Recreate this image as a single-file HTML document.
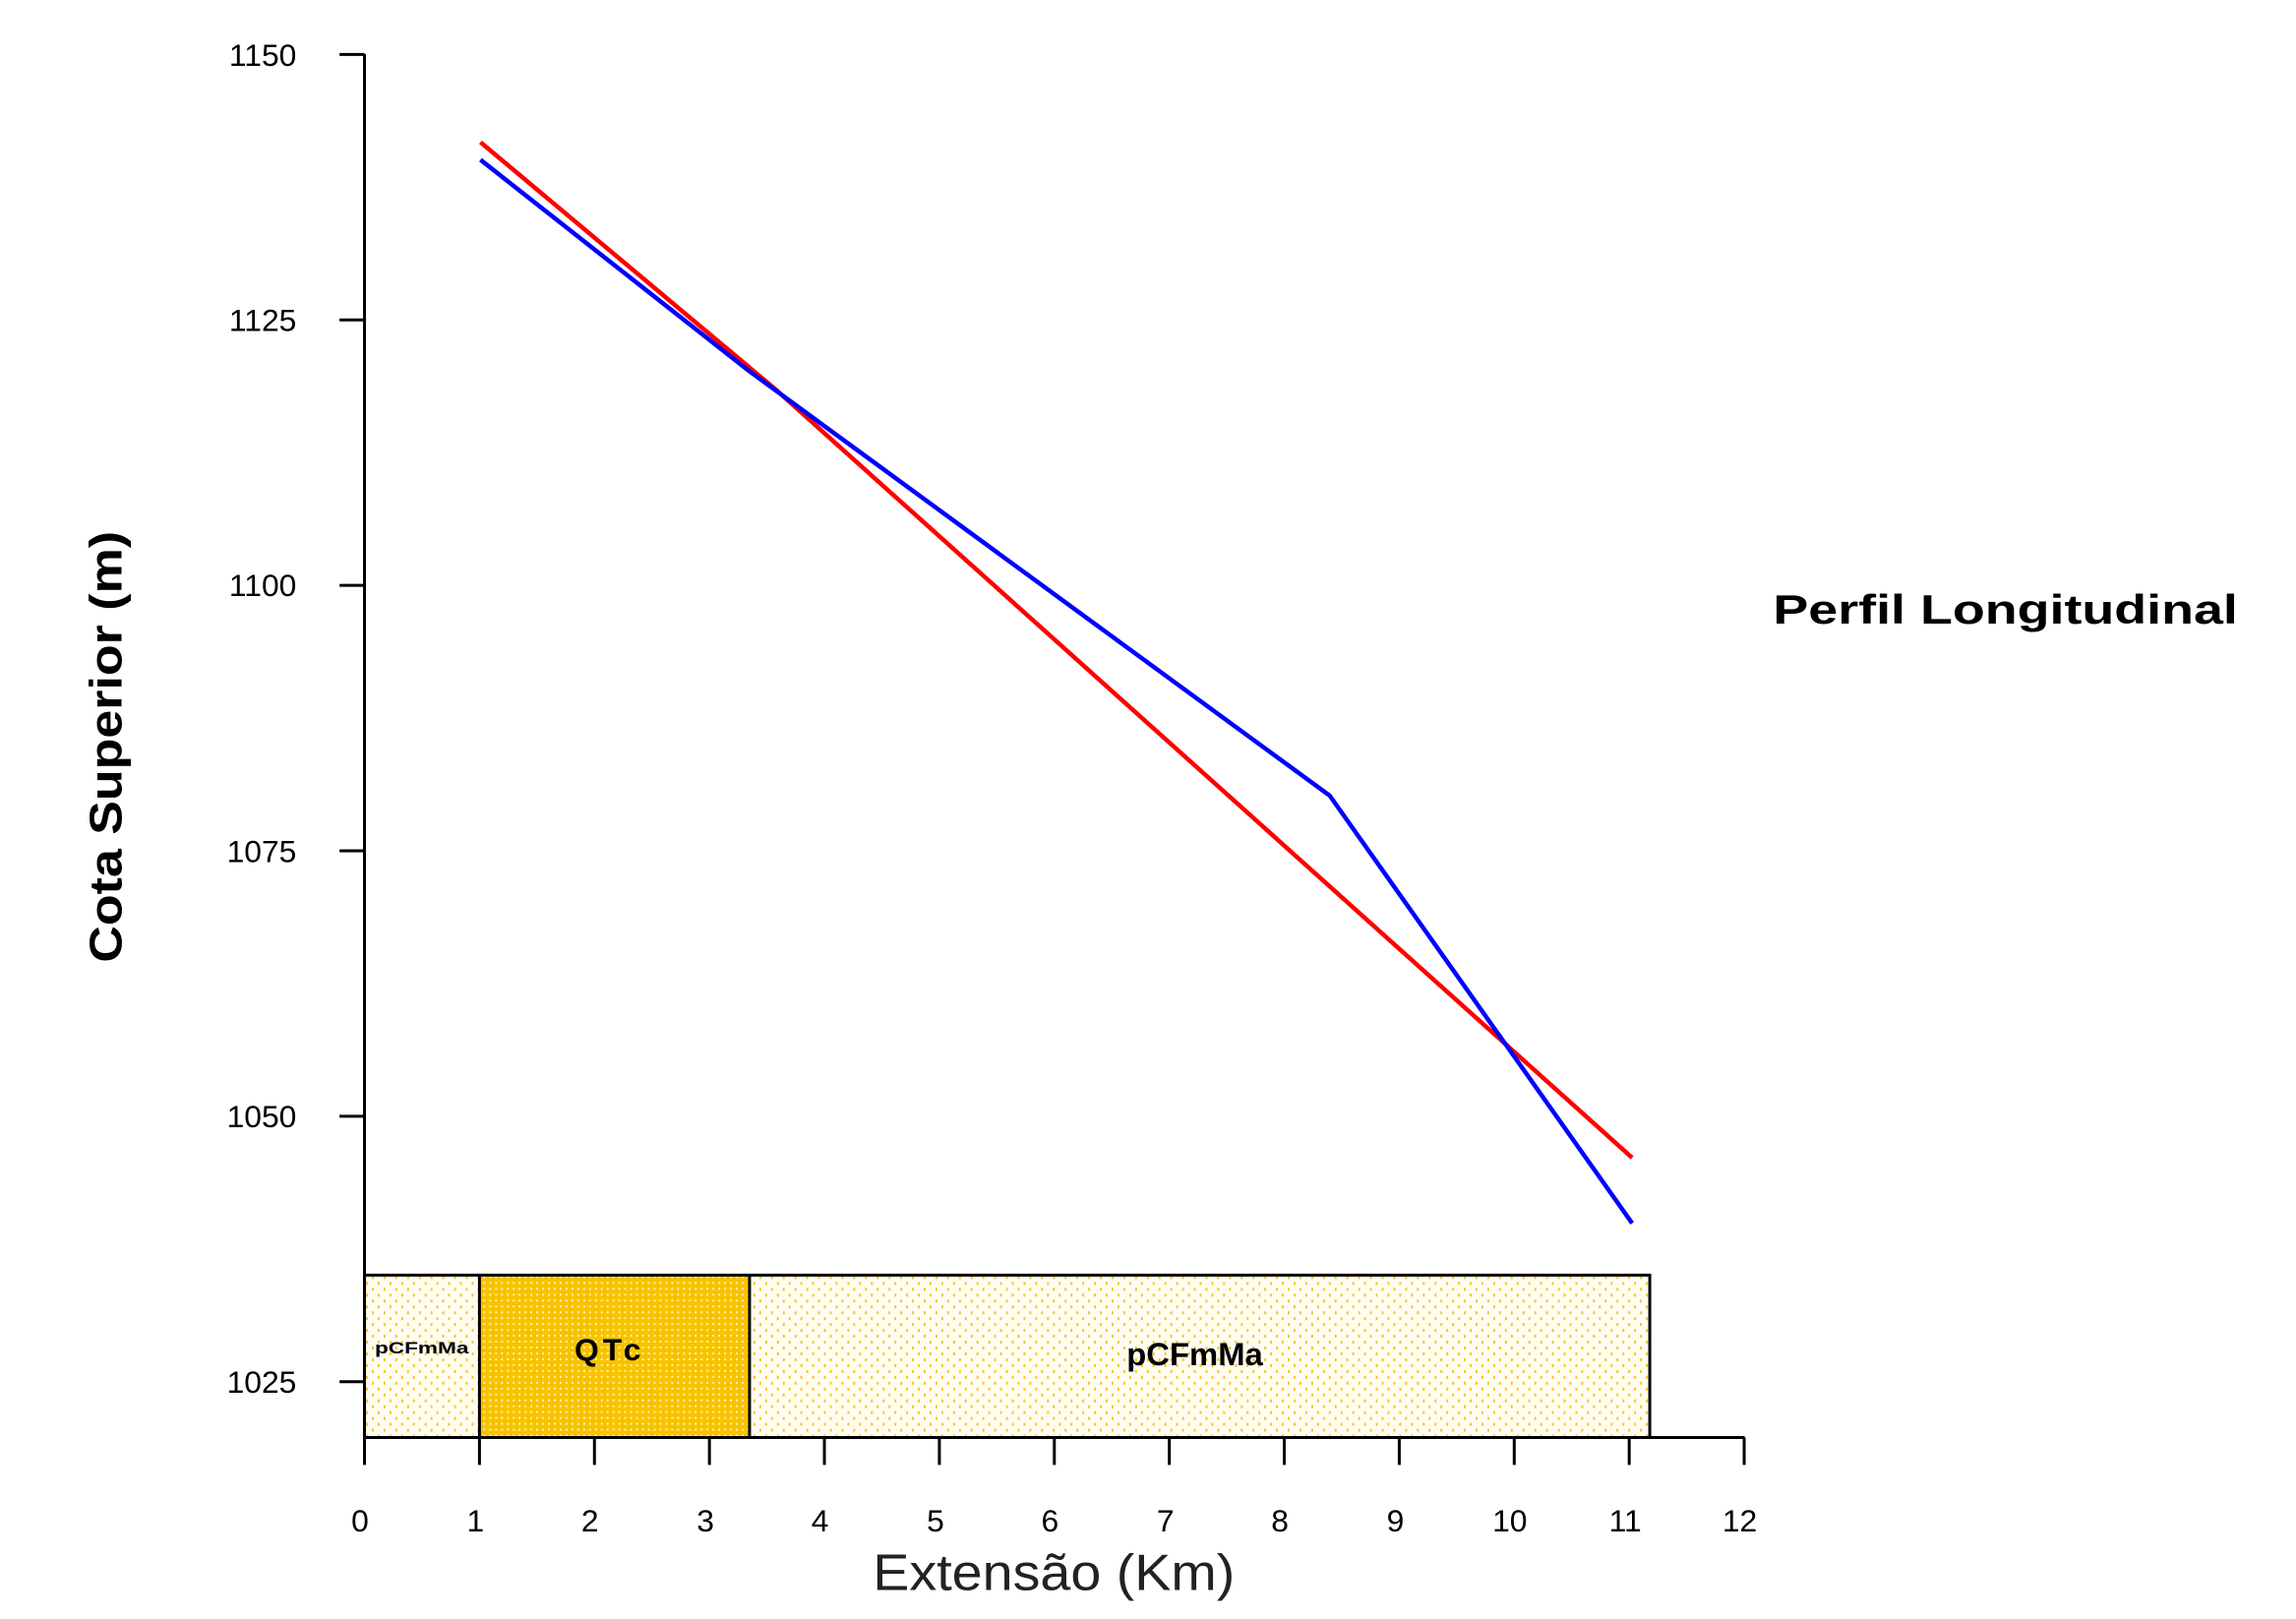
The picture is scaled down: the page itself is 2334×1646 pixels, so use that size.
<!DOCTYPE html>
<html><head><meta charset="utf-8"><style>html,body{margin:0;padding:0;background:#fff}</style></head>
<body>
<svg width="2334" height="1641" viewBox="0 0 2334 1641" xmlns="http://www.w3.org/2000/svg" font-family="Liberation Sans, Arial, sans-serif">
<defs>
<pattern id="lt" width="12" height="12" patternUnits="userSpaceOnUse">
<rect width="12" height="12" fill="#fffcf0"/><rect x="2" y="2" width="2" height="3" fill="#f3c62a"/><rect x="8" y="8" width="2" height="3" fill="#f3c62a"/>
</pattern>
<pattern id="dk" width="6" height="6" patternUnits="userSpaceOnUse">
<rect width="6" height="6" fill="#f7c300"/><rect x="2" y="2" width="2" height="2" fill="#fff2a8"/>
</pattern>
</defs>
<g transform="translate(0,0.3) scale(0.9947)">
<rect x="372.5" y="1303" width="117.5" height="166" fill="url(#lt)"/>
<rect x="490" y="1303" width="276" height="166" fill="url(#dk)"/>
<rect x="766" y="1303" width="920" height="166" fill="url(#lt)"/>
<g stroke="#000" stroke-width="3" fill="none">
<rect x="372.5" y="1303" width="1313.5" height="166"/>
<line x1="490" y1="1303" x2="490" y2="1469"/>
<line x1="766" y1="1303" x2="766" y2="1469"/>
</g>
<text x="431" y="1383" font-size="17" font-weight="bold" text-anchor="middle" textLength="96" lengthAdjust="spacingAndGlyphs">pCFmMa</text>
<text x="623" y="1390" font-size="32" font-weight="bold" text-anchor="middle" letter-spacing="4">QTc</text>
<text x="1221" y="1395" font-size="33" font-weight="bold" text-anchor="middle">pCFmMa</text>
<g stroke="#000" stroke-width="3">
<line x1="372.5" y1="55" x2="372.5" y2="1469"/>
<line x1="371" y1="1469" x2="1783" y2="1469"/>
<line x1="347" y1="55.4" x2="372.5" y2="55.4"/>
<line x1="347" y1="326.7" x2="372.5" y2="326.7"/>
<line x1="347" y1="598" x2="372.5" y2="598"/>
<line x1="347" y1="869.3" x2="372.5" y2="869.3"/>
<line x1="347" y1="1140.6" x2="372.5" y2="1140.6"/>
<line x1="347" y1="1411.9" x2="372.5" y2="1411.9"/>
<line x1="372.5" y1="1469" x2="372.5" y2="1497"/><line x1="490" y1="1469" x2="490" y2="1497"/><line x1="607.5" y1="1469" x2="607.5" y2="1497"/><line x1="725" y1="1469" x2="725" y2="1497"/><line x1="842.5" y1="1469" x2="842.5" y2="1497"/><line x1="960" y1="1469" x2="960" y2="1497"/><line x1="1077.5" y1="1469" x2="1077.5" y2="1497"/><line x1="1195" y1="1469" x2="1195" y2="1497"/><line x1="1312.5" y1="1469" x2="1312.5" y2="1497"/><line x1="1430" y1="1469" x2="1430" y2="1497"/><line x1="1547.5" y1="1469" x2="1547.5" y2="1497"/><line x1="1665" y1="1469" x2="1665" y2="1497"/><line x1="1782.5" y1="1469" x2="1782.5" y2="1497"/>
</g>
<g font-size="32" text-anchor="end">
<text x="303" y="67">1150</text><text x="303" y="338">1125</text><text x="303" y="609">1100</text><text x="303" y="881">1075</text><text x="303" y="1152">1050</text><text x="303" y="1423">1025</text>
</g>
<g font-size="32" text-anchor="middle">
<text x="368" y="1565">0</text><text x="486" y="1565">1</text><text x="603" y="1565">2</text><text x="721" y="1565">3</text><text x="838" y="1565">4</text><text x="956" y="1565">5</text><text x="1073" y="1565">6</text><text x="1191" y="1565">7</text><text x="1308" y="1565">8</text><text x="1426" y="1565">9</text><text x="1543" y="1565">10</text><text x="1661" y="1565">11</text><text x="1778" y="1565">12</text>
</g>
<text x="1077" y="1625" font-size="52" text-anchor="middle" textLength="370" lengthAdjust="spacingAndGlyphs" fill="#222">Extensão (Km)</text>
<text transform="translate(124,763) rotate(-90)" font-size="47" font-weight="bold" text-anchor="middle" textLength="441" lengthAdjust="spacingAndGlyphs">Cota Superior (m)</text>
<text x="1812" y="637" font-size="42" font-weight="bold" textLength="475" lengthAdjust="spacingAndGlyphs">Perfil Longitudinal</text>
<polyline fill="none" stroke="#ff0000" stroke-width="4.5" stroke-linejoin="round" points="491,145 793,398 1668,1183"/>
<polyline fill="none" stroke="#0000ff" stroke-width="4.5" stroke-linejoin="round" points="491,163 763,377 1359,813 1668,1250"/>
</g>
</svg>
</body></html>
